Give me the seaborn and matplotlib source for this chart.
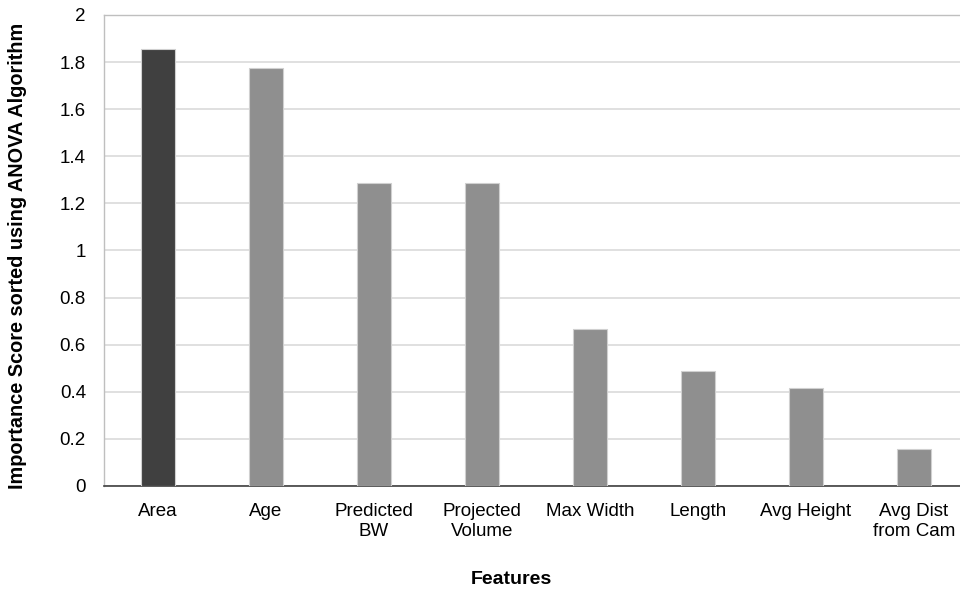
import matplotlib.pyplot as plt
import seaborn as sns
import pandas as pd

features = ['Area', 'Age', 'Predicted\nBW', 'Projected\nVolume', 'Max Width',
            'Length', 'Avg Height', 'Avg Dist\nfrom Cam']
scores = [1.857, 1.773, 1.288, 1.288, 0.666, 0.490, 0.415, 0.158]
bar_colors = ['#404040', '#8f8f8f', '#8f8f8f', '#8f8f8f', '#8f8f8f',
              '#8f8f8f', '#8f8f8f', '#8f8f8f']
y_ticks = [0, 0.2, 0.4, 0.6, 0.8, 1, 1.2, 1.4, 1.6, 1.8, 2]
y_tick_labels = ['0', '0.2', '0.4', '0.6', '0.8', '1', '1.2', '1.4', '1.6', '1.8', '2']


def main():
	sns.set_theme(style='white')
	plt.rcParams['font.family'] = ['Liberation Sans', 'DejaVu Sans']

	df = pd.DataFrame({'feature': features, 'score': scores})

	fig = plt.figure(figsize=(9.6, 5.91), dpi=100)
	ax = fig.add_axes([0.1083, 0.1777, 0.9, 0.797])

	sns.barplot(data=df, x='feature', y='score', hue='feature',
	            palette=bar_colors, legend=False, width=0.31,
	            edgecolor='#d0d0d0', linewidth=0.8, ax=ax, zorder=3)

	ax.set_xlim(-0.5, 7.5)
	ax.set_ylim(0, 2)
	ax.set_yticks(y_ticks)
	ax.set_yticklabels(y_tick_labels)
	ax.yaxis.grid(True, color='#dadada', linewidth=1.2, zorder=0)
	ax.set_axisbelow(True)

	for side in ['left', 'top', 'right']:
		ax.spines[side].set_color('#bfbfbf')
		ax.spines[side].set_linewidth(1.0)
	ax.spines['bottom'].set_color('#404040')
	ax.spines['bottom'].set_linewidth(1.2)

	ax.tick_params(axis='both', length=0, labelsize=13.5, colors='#000000')
	ax.tick_params(axis='x', pad=12.5)
	ax.tick_params(axis='y', pad=13)
	for lbl in ax.get_xticklabels():
		lbl.set_linespacing(1.2)

	ax.set_xlabel('Features', fontsize=14, fontweight='bold', color='#000000')
	ax.set_ylabel('Importance Score sorted using ANOVA Algorithm', fontsize=14.3,
	              fontweight='bold', color='#000000')
	ax.xaxis.set_label_coords(0.471, -0.1975)
	ax.yaxis.set_label_coords(-0.0995, 0.488)
	ax.xaxis.label.set_va('center')
	ax.yaxis.label.set_va('center')

	fig.savefig('out.png', dpi=100)


if __name__ == '__main__':
	main()
